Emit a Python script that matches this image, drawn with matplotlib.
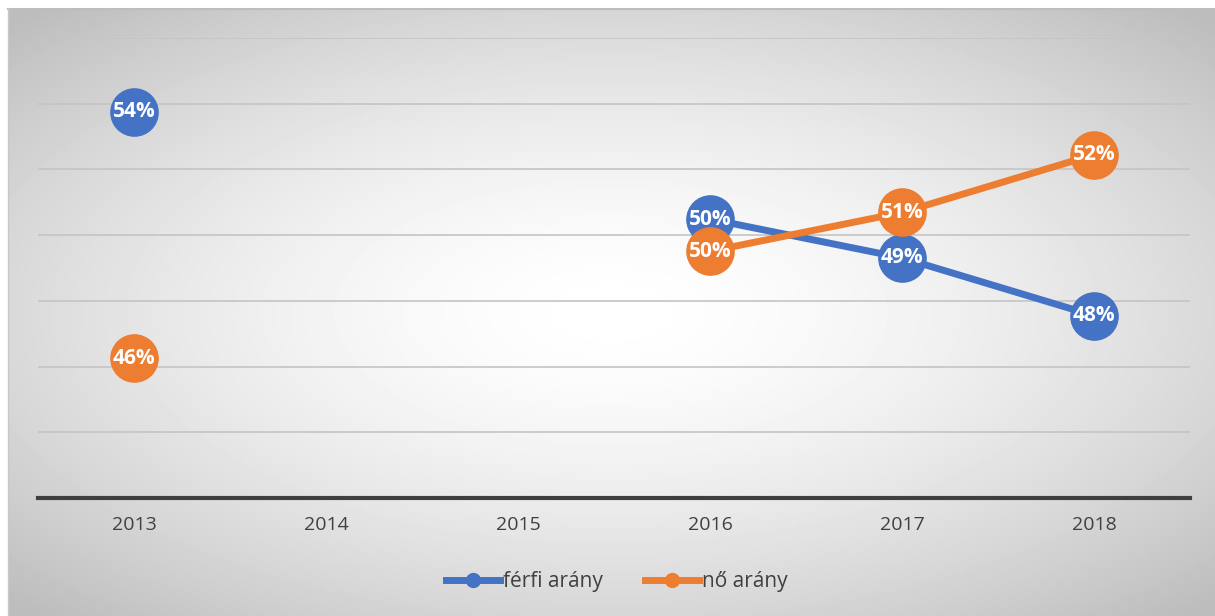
import numpy as np
from matplotlib import pyplot as plt
from matplotlib.lines import Line2D

years = ["2013", "2014", "2015", "2016", "2017", "2018"]
ferfi = [0.5375, np.nan, np.nan, 0.5049, 0.4931, 0.4755]
no = [0.4625, np.nan, np.nan, 0.4951, 0.5069, 0.5245]

blue = "#4472c4"
orange = "#ed7d31"

plt.rcParams['font.family'] = ['Open Sans', 'DejaVu Sans']

fig = plt.figure(figsize=(12.15, 6.16), dpi=100)

# radial grey-to-white background (figure level)
bg = fig.add_axes([8/1215, 0, 1 - 8/1215, 1 - 9/616], zorder=0)
xx, yy = np.meshgrid(np.linspace(-1, 1, 400), np.linspace(-1, 1, 200))
r = np.sqrt(xx**2 + (yy * 1.05)**2) / np.sqrt(2)
shade = 1 - 0.26 * np.clip(r, 0, 1)**1.6
bg.imshow(shade, cmap="gray", vmin=0, vmax=1, aspect="auto", extent=[0, 1, 0, 1])
bg.set_axis_off()
fig.add_artist(Line2D([8/1215, 1], [1 - 9/616, 1 - 9/616], color="#bdbdbd", lw=1.5))
fig.add_artist(Line2D([8/1215, 8/1215], [0, 1 - 9/616], color="#c8c8c8", lw=1))

ax = fig.add_axes([38/1215, 118/616, 1152/1215, 460/616], zorder=1)
ax.patch.set_alpha(0)
x = np.arange(len(years))

ax.set_ylim(0.42, 0.56)
ax.set_xlim(-0.5, len(years) - 0.5)
for g in np.arange(0.44, 0.561, 0.02):
    ax.axhline(g, color="#c4c4c4", lw=1.2, zorder=1)
ax.axhline(0.42, color="#3f3f3f", lw=3, zorder=2, clip_on=False)

for vals, col in [(ferfi, blue), (no, orange)]:
    ax.plot(x, vals, color=col, lw=5, marker="o", markersize=34, zorder=3,
            solid_capstyle="round")
    for xi, v in zip(x, vals):
        if not np.isnan(v):
            ax.text(xi, v, f"{round(v * 100):.0f}%", ha="center", va="center",
                    color="white", fontsize=15, fontweight="bold", zorder=4)

ax.set_xticks(x)
ax.set_xticklabels(years, fontsize=14, color="#404040")
ax.tick_params(axis="x", length=0, pad=13)
ax.set_yticks([])
for s in ax.spines.values():
    s.set_visible(False)

handles = [Line2D([], [], color=blue, lw=5, marker="o", markersize=10),
           Line2D([], [], color=orange, lw=5, marker="o", markersize=10)]
leg = fig.legend(handles, ["férfi arány", "nő arány"], loc="center",
                 bbox_to_anchor=(617/1215, 1 - 582/616), ncol=2, frameon=False,
                 fontsize=15, handlelength=2.6, handletextpad=0.15, columnspacing=2.0)
for t in leg.get_texts():
    t.set_color("#404040")

fig.savefig("out.png", dpi=100)
